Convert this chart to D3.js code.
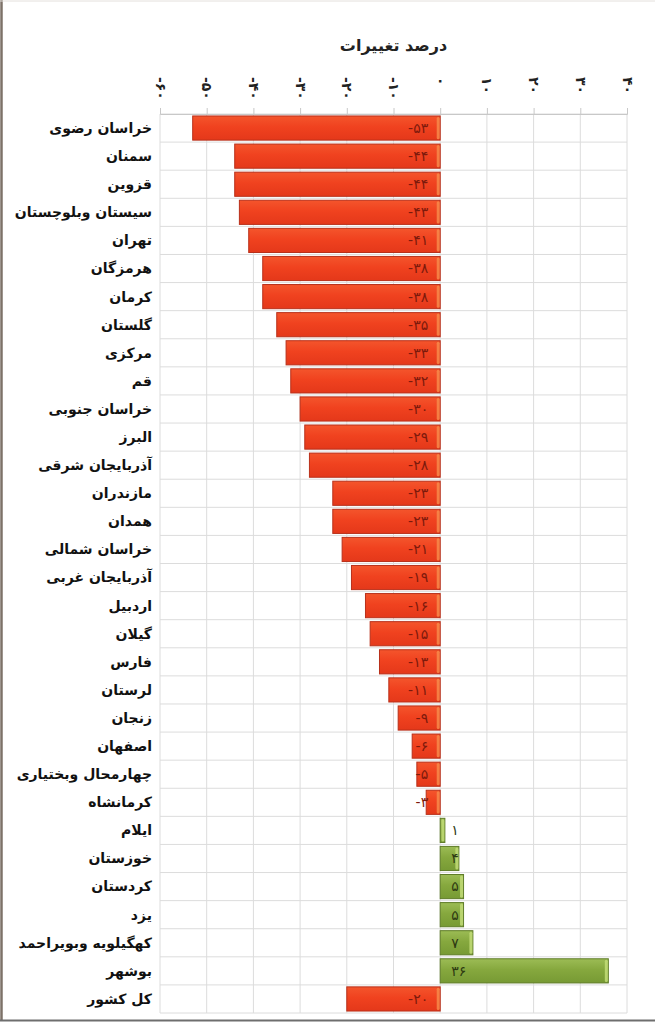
<!DOCTYPE html>
<html>
<head>
<meta charset="utf-8">
<script src="https://cdn.jsdelivr.net/npm/d3@7"></script>
<style>
  body { margin: 0; background: #fff; }
  svg { display: block; }
</style>
</head>
<body>
<script>
var width = 655, height = 1024;

// data
var provinces = ["خراسان رضوی", "سمنان", "قزوین", "سیستان وبلوچستان", "تهران", "هرمزگان", "کرمان",
  "گلستان", "مرکزی", "قم", "خراسان جنوبی", "البرز", "آذربایجان شرقی", "مازندران", "همدان",
  "خراسان شمالی", "آذربایجان غربی", "اردبیل", "گیلان", "فارس", "لرستان", "زنجان", "اصفهان",
  "چهارمحال وبختیاری", "کرمانشاه", "ایلام", "خوزستان", "کردستان", "یزد", "کهگیلویه وبویراحمد",
  "بوشهر", "کل کشور"];
var changes = [-53, -44, -44, -43, -41, -38, -38, -35, -33, -32, -30, -29, -28, -23, -23, -21, -19,
  -16, -15, -13, -11, -9, -6, -5, -3, 1, 4, 5, 5, 7, 36, -20];
var tickValues = [-60, -50, -40, -30, -20, -10, 0, 10, 20, 30, 40];
var axisTitle = "درصد تغییرات";

var data = provinces.map(function(p, i) { return {name: p, value: changes[i]}; });

// persian digits
function fa(n) {
  var s = String(Math.abs(n)).replace(/[0-9]/g, function(d) { return "۰۱۲۳۴۵۶۷۸۹"[+d]; });
  return (n < 0 ? "-" : "") + s;
}

var x = d3.scaleLinear().domain([-60, 40]).range([160, 627]);
var y = d3.scaleBand().domain(provinces).range([114, 1013]).paddingInner(0.14).paddingOuter(0.07);
var step = y.step();

var svg = d3.select("body").append("svg")
  .attr("width", width)
  .attr("height", height);

var defs = svg.append("defs");
function grad(id, c1, c2, c3) {
  var g = defs.append("linearGradient").attr("id", id)
    .attr("x1", 0).attr("y1", 0).attr("x2", 0).attr("y2", 1);
  g.append("stop").attr("offset", "0%").attr("stop-color", c1);
  g.append("stop").attr("offset", "45%").attr("stop-color", c2);
  g.append("stop").attr("offset", "100%").attr("stop-color", c3);
}
grad("gRed", "#f4552c", "#f0421f", "#e4381a");
grad("gGreen", "#9cbc55", "#86a83e", "#779a34");

// grid
var grid = svg.append("g").attr("class", "grid");
grid.selectAll("line.v")
  .data(tickValues)
  .enter().append("line")
  .attr("class", "v")
  .attr("x1", function(d) { return x(d); })
  .attr("x2", function(d) { return x(d); })
  .attr("y1", 114)
  .attr("y2", 114 + step * provinces.length)
  .attr("stroke", "#dcdcdc")
  .attr("stroke-width", 1);

var rows = d3.range(provinces.length + 1);
grid.selectAll("line.h")
  .data(rows)
  .enter().append("line")
  .attr("class", "h")
  .attr("x1", x(-60))
  .attr("x2", x(40))
  .attr("y1", function(i) { return 114 + i * step; })
  .attr("y2", function(i) { return 114 + i * step; })
  .attr("stroke", "#dcdcdc")
  .attr("stroke-width", 1);

// top axis
var xAxis = d3.axisTop(x).tickValues(tickValues).tickSize(6).tickFormat(fa);
var ax = svg.append("g")
  .attr("transform", "translate(0,114)")
  .call(xAxis);
ax.select(".domain").attr("stroke", "#c8c8c8");
ax.selectAll(".tick line").attr("stroke", "#c8c8c8");
ax.selectAll(".tick text")
  .attr("font-family", "DejaVu Sans")
  .attr("font-weight", "bold")
  .attr("font-size", 14)
  .attr("fill", "#222")
  .attr("transform", "rotate(90)")
  .attr("x", -37)
  .attr("y", 0)
  .attr("dy", "0.35em")
  .style("text-anchor", "start");

svg.append("text")
  .attr("x", x(-10))
  .attr("y", 51)
  .attr("text-anchor", "middle")
  .attr("font-family", "DejaVu Sans")
  .attr("font-weight", "bold")
  .attr("font-size", 16)
  .attr("fill", "#222")
  .text(axisTitle);

// bars
var bars = svg.append("g").selectAll("g.bar")
  .data(data)
  .enter().append("g")
  .attr("class", "bar");

bars.append("rect")
  .attr("x", function(d) { return x(Math.min(0, d.value)); })
  .attr("y", function(d) { return y(d.name); })
  .attr("width", function(d) { return Math.abs(x(d.value) - x(0)); })
  .attr("height", y.bandwidth())
  .attr("fill", function(d) { return d.value < 0 ? "url(#gRed)" : "url(#gGreen)"; })
  .attr("stroke", function(d) { return d.value < 0 ? "#b8301a" : "#5f7c28"; })
  .attr("stroke-width", 1);

// light cap at right end of each bar
bars.append("rect")
  .attr("x", function(d) { return x(Math.max(0, d.value)) - 3.5; })
  .attr("y", function(d) { return y(d.name) + 1; })
  .attr("width", function(d) { return Math.min(3, Math.abs(x(d.value) - x(0))); })
  .attr("height", y.bandwidth() - 2)
  .attr("rx", 1.5)
  .attr("fill", function(d) { return d.value < 0 ? "#f78a4a" : "#c2dc78"; })
  .attr("opacity", 0.85);

bars.append("text")
  .attr("x", function(d) { return d.value < 0 ? x(0) - 12 : x(0) + 11; })
  .attr("y", function(d) { return y(d.name) + y.bandwidth() / 2; })
  .attr("dy", "0.35em")
  .attr("text-anchor", function(d) { return d.value < 0 ? "end" : "start"; })
  .attr("font-family", "DejaVu Sans")
  .attr("font-size", 14)
  .attr("fill", function(d) { return d.value < 0 ? "#7c1a0c" : "#2e3a12"; })
  .text(function(d) { return fa(d.value); });

// category labels (rtl, anchored at right edge)
svg.append("g").selectAll("text")
  .data(provinces)
  .enter().append("text")
  .attr("x", 152)
  .attr("y", function(d) { return y(d) + y.bandwidth() / 2; })
  .attr("dy", "0.35em")
  .attr("direction", "rtl")
  .attr("text-anchor", "start")
  .attr("font-family", "DejaVu Sans")
  .attr("font-weight", "bold")
  .attr("font-size", 14)
  .attr("fill", "#111")
  .text(function(d) { return d; });

// frame
svg.append("line").attr("x1", 1.5).attr("x2", 1.5).attr("y1", 0).attr("y2", 1021)
  .attr("stroke", "#7d7268").attr("stroke-width", 2.5);
svg.append("line").attr("x1", 0).attr("x2", width).attr("y1", 1020.5).attr("y2", 1020.5)
  .attr("stroke", "#6e6e6e").attr("stroke-width", 2);
svg.append("line").attr("x1", 0).attr("x2", width).attr("y1", 1).attr("y2", 1)
  .attr("stroke", "#e4e0dc").attr("stroke-width", 1);
</script>
</body>
</html>
